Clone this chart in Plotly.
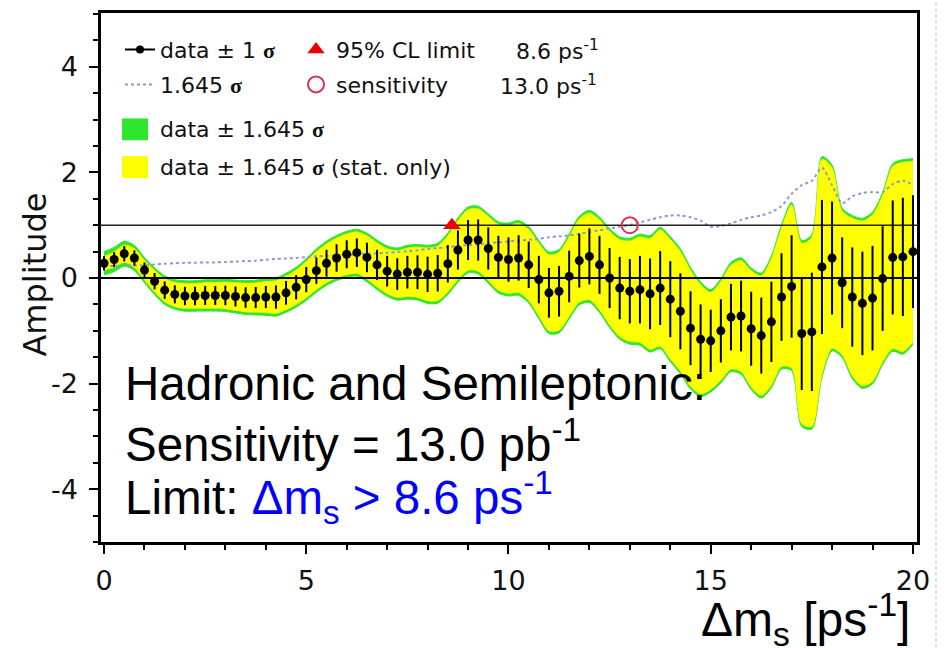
import plotly.graph_objects as go

# Amplitude scan: oscillation frequency points (ps^-1)
dms = [0.00, 0.25, 0.50, 0.75, 1.00, 1.25, 1.50, 1.75, 2.00, 2.25,
       2.50, 2.75, 3.00, 3.25, 3.50, 3.75, 4.00, 4.25, 4.50, 4.75,
       5.00, 5.25, 5.50, 5.75, 6.00, 6.25, 6.50, 6.75, 7.00, 7.25,
       7.50, 7.75, 8.00, 8.25, 8.50, 8.75, 9.00, 9.25, 9.50, 9.75,
       10.00, 10.25, 10.50, 10.75, 11.00, 11.25, 11.50, 11.75, 12.00, 12.25,
       12.50, 12.75, 13.00, 13.25, 13.50, 13.75, 14.00, 14.25, 14.50, 14.75,
       15.00, 15.25, 15.50, 15.75, 16.00, 16.25, 16.50, 16.75, 17.00, 17.25,
       17.50, 17.75, 18.00, 18.25, 18.50, 18.75, 19.00, 19.25, 19.50, 19.75,
       20.00]

# Fitted amplitude at each point
amp = [0.28, 0.35, 0.46, 0.38, 0.15, -0.06, -0.23, -0.31, -0.34, -0.34,
       -0.33, -0.33, -0.33, -0.35, -0.37, -0.37, -0.36, -0.36, -0.28, -0.175,
       -0.03, 0.14, 0.28, 0.38, 0.45, 0.48, 0.39, 0.25, 0.13, 0.075,
       0.11, 0.11, 0.07, 0.09, 0.27, 0.53, 0.72, 0.72, 0.56, 0.39,
       0.35, 0.38, 0.25, -0.03, -0.28, -0.25, 0.03, 0.33, 0.41, 0.25,
       0.00, -0.19, -0.25, -0.22, -0.30, -0.19, -0.40, -0.63, -0.95, -1.16,
       -1.19, -1.00, -0.74, -0.72, -0.96, -1.09, -0.83, -0.36, -0.16, -1.05,
       -1.02, 0.21, 0.38, -0.09, -0.36, -0.48, -0.38, -0.01, 0.39, 0.40,
       0.50]

# Total uncertainty (stat + syst)
sigma = [0.135, 0.14, 0.145, 0.145, 0.145, 0.155, 0.165, 0.17, 0.175, 0.175,
         0.18, 0.18, 0.185, 0.19, 0.195, 0.20, 0.21, 0.22, 0.225, 0.23,
         0.24, 0.25, 0.255, 0.26, 0.265, 0.27, 0.28, 0.285, 0.29, 0.30,
         0.31, 0.32, 0.335, 0.345, 0.355, 0.37, 0.38, 0.39, 0.40, 0.41,
         0.42, 0.43, 0.44, 0.45, 0.47, 0.48, 0.49, 0.51, 0.53, 0.55,
         0.57, 0.59, 0.61, 0.64, 0.67, 0.70, 0.72, 0.72, 0.70, 0.66,
         0.59, 0.60, 0.63, 0.67, 0.70, 0.72, 0.76, 0.83, 0.97, 1.07,
         1.12, 1.27, 1.07, 0.86, 0.94, 0.98, 0.99, 0.99, 1.08, 1.12,
         1.07]

# Statistical uncertainty only
sigma_stat = [0.08, 0.09, 0.10, 0.11, 0.115, 0.125, 0.135, 0.14, 0.145, 0.145,
              0.15, 0.15, 0.155, 0.16, 0.165, 0.17, 0.18, 0.19, 0.195, 0.20,
              0.21, 0.22, 0.225, 0.23, 0.235, 0.24, 0.25, 0.255, 0.26, 0.27,
              0.28, 0.29, 0.305, 0.315, 0.325, 0.34, 0.35, 0.36, 0.37, 0.38,
              0.39, 0.40, 0.41, 0.42, 0.44, 0.45, 0.46, 0.48, 0.50, 0.52,
              0.54, 0.56, 0.58, 0.61, 0.64, 0.67, 0.69, 0.69, 0.67, 0.63,
              0.56, 0.57, 0.60, 0.64, 0.67, 0.69, 0.73, 0.80, 0.94, 1.04,
              1.09, 1.24, 1.04, 0.83, 0.91, 0.95, 0.96, 0.96, 1.05, 1.09,
              1.04]

limit_dms = 8.6     # 95% CL lower limit
sens_dms = 13.0     # sensitivity
cl = 1.645

y_ticks = [-4, -2, 0, 2, 4]
y_ticklabels = ["-4", "-2", "0", "2", "4"]
x_ticks = [0, 5, 10, 15, 20]
x_ticklabels = ["0", "5", "10", "15", "20"]

x_range = [-0.075, 20.1]
y_range = [-5.0, 5.02]

W, H = 944, 648
ML, MR, MT, MB = 101, 27, 10, 106
PW, PH = W - ML - MR, H - MT - MB


def px(xp):
    return (xp - ML) / PW


def py(yp):
    return (H - MB - yp) / PH


green_lo = [a - cl * s for a, s in zip(amp, sigma)]
green_hi = [a + cl * s for a, s in zip(amp, sigma)]
yel_lo = [a - cl * s for a, s in zip(amp, sigma_stat)]
yel_hi = [a + cl * s for a, s in zip(amp, sigma_stat)]
sens_curve = [cl * s for s in sigma]

GREEN = "#2ee62e"
YELLOW = "#ffff00"
DOT = "#8a98d4"
SIG = "<span style='font-family:Liberation Serif;font-weight:bold'>σ</span>"

fig = go.Figure()

spl = dict(shape="spline", smoothing=0.8)
fig.add_trace(go.Scatter(x=dms, y=green_lo, mode="lines",
                         line=dict(color=GREEN, width=1, **spl),
                         showlegend=False, hoverinfo="skip"))
fig.add_trace(go.Scatter(x=dms, y=green_hi, mode="lines", fill="tonexty",
                         fillcolor=GREEN, line=dict(color=GREEN, width=1, **spl),
                         showlegend=False, hoverinfo="skip"))
fig.add_trace(go.Scatter(x=dms, y=yel_lo, mode="lines",
                         line=dict(color=YELLOW, width=0.5, **spl),
                         showlegend=False, hoverinfo="skip"))
fig.add_trace(go.Scatter(x=dms, y=yel_hi, mode="lines", fill="tonexty",
                         fillcolor=YELLOW, line=dict(color=YELLOW, width=0.5, **spl),
                         showlegend=False, hoverinfo="skip"))

# 1.645 sigma curve
fig.add_trace(go.Scatter(x=dms, y=sens_curve, mode="lines",
                         line=dict(color=DOT, width=2, dash="dot", **spl),
                         name=f"{cl} " + SIG, legend="legend2"))

# reference levels at amplitude 0 and 1
fig.add_trace(go.Scatter(x=x_range, y=[0, 0], mode="lines",
                         line=dict(color="black", width=2),
                         showlegend=False, hoverinfo="skip"))
fig.add_trace(go.Scatter(x=x_range, y=[1, 1], mode="lines",
                         line=dict(color="#222222", width=1.5),
                         showlegend=False, hoverinfo="skip"))

# data points with 1 sigma error bars
fig.add_trace(go.Scatter(x=dms, y=amp, mode="markers",
                         marker=dict(color="black", size=9),
                         error_y=dict(type="data", array=sigma, color="black",
                                      thickness=2, width=0),
                         showlegend=False))
# legend key for the data points
fig.add_trace(go.Scatter(x=[None], y=[None], mode="lines+markers",
                         line=dict(color="black", width=2),
                         marker=dict(color="black", size=8),
                         name="data ± 1 " + SIG, legend="legend"))

fig.add_trace(go.Scatter(x=[limit_dms], y=[1.0], mode="markers",
                         marker=dict(symbol="triangle-up", size=15, color="#ee0000"),
                         name="95% CL limit", legend="legend3"))
fig.add_trace(go.Scatter(x=[sens_dms], y=[1.0], mode="markers",
                         marker=dict(symbol="circle-open", size=16, color="#e03050",
                                     line=dict(width=2)),
                         name="sensitivity", legend="legend4"))

leg_font = dict(family="DejaVu Sans", size=22, color="#111111")


def leg(xp, yp):
    return dict(x=px(xp), y=py(yp), xanchor="left", yanchor="middle",
                bgcolor="rgba(0,0,0,0)", borderwidth=0, font=leg_font,
                itemwidth=30)


ann = []
shapes = []

# filled-box legend entries
for col, yc, txt in [(GREEN, 127, "data ± 1.645 " + SIG),
                     (YELLOW, 165, "data ± 1.645 " + SIG + " (stat. only)")]:
    shapes.append(dict(type="rect", xref="paper", yref="paper",
                       x0=px(122), x1=px(148), y0=py(yc + 11), y1=py(yc - 11),
                       fillcolor=col, line=dict(width=0)))
    ann.append(dict(xref="paper", yref="paper", x=px(158), y=py(yc), text=txt,
                    showarrow=False, xanchor="left", yanchor="middle", font=leg_font))

ann.append(dict(xref="paper", yref="paper", x=px(601), y=py(47),
                text=f"{limit_dms:.1f} ps<sup>-1</sup>", showarrow=False,
                xanchor="right", yanchor="middle", font=leg_font))
ann.append(dict(xref="paper", yref="paper", x=px(599), y=py(82),
                text=f"{sens_dms:.1f} ps<sup>-1</sup>", showarrow=False,
                xanchor="right", yanchor="middle", font=leg_font))

big = dict(family="Liberation Sans, Arial", size=47.5, color="black")
ann.append(dict(xref="paper", yref="paper", x=px(123), y=py(383),
                text="Hadronic and Semileptonic:", showarrow=False,
                xanchor="left", yanchor="middle", font=big))
ann.append(dict(xref="paper", yref="paper", x=px(123), y=py(440),
                text=f"Sensitivity = {sens_dms:.1f} pb<sup>-1</sup>", showarrow=False,
                xanchor="left", yanchor="middle", font=big))
ann.append(dict(xref="paper", yref="paper", x=px(123), y=py(497),
                text=("Limit: <span style='color:#0000ff'>Δm<sub>s</sub> &gt; "
                      f"{limit_dms:.1f} ps<sup>-1</sup></span>"),
                showarrow=False, xanchor="left", yanchor="middle", font=big))
ann.append(dict(xref="paper", yref="paper", x=px(912), y=py(620),
                text="Δm<sub>s</sub> [ps<sup>-1</sup>]", showarrow=False,
                xanchor="right", yanchor="middle", font=dict(big, size=48)))
ann.append(dict(xref="paper", yref="paper", x=px(35), y=py(273),
                text="Amplitude", textangle=-90, showarrow=False,
                xanchor="center", yanchor="middle",
                font=dict(family="DejaVu Sans", size=32, color="#111111")))

# page edge
shapes.append(dict(type="line", xref="paper", yref="paper",
                   x0=px(936), x1=px(936), y0=py(H), y1=py(0),
                   line=dict(color="#cfcfcf", width=1.5, dash="dot")))

tick_font = dict(family="DejaVu Sans", size=27, color="#111111")
axis_common = dict(showline=True, linecolor="black", linewidth=2.5, mirror=True,
                   ticks="outside", ticklen=9, tickwidth=2, tickcolor="black",
                   showgrid=False, zeroline=False, tickfont=tick_font)

fig.update_layout(
    width=W, height=H,
    margin=dict(l=ML, r=MR, t=MT, b=MB),
    paper_bgcolor="white", plot_bgcolor="white",
    xaxis=dict(range=x_range, tickmode="array", tickvals=x_ticks,
               ticktext=x_ticklabels, ticklabelstandoff=4,
               minor=dict(dtick=1, tick0=0, ticklen=5, tickwidth=2,
                          tickcolor="black", ticks="outside"),
               **axis_common),
    yaxis=dict(range=y_range, tickmode="array", tickvals=y_ticks,
               ticktext=y_ticklabels, ticklabelstandoff=6,
               minor=dict(dtick=0.5, tick0=0, ticklen=5, tickwidth=2,
                          tickcolor="black", ticks="outside"),
               **axis_common),
    legend=leg(120, 47),
    legend2=leg(120, 82),
    legend3=leg(296, 47),
    legend4=leg(296, 82),
    annotations=ann,
    shapes=shapes,
)

fig.write_html("out.html")
